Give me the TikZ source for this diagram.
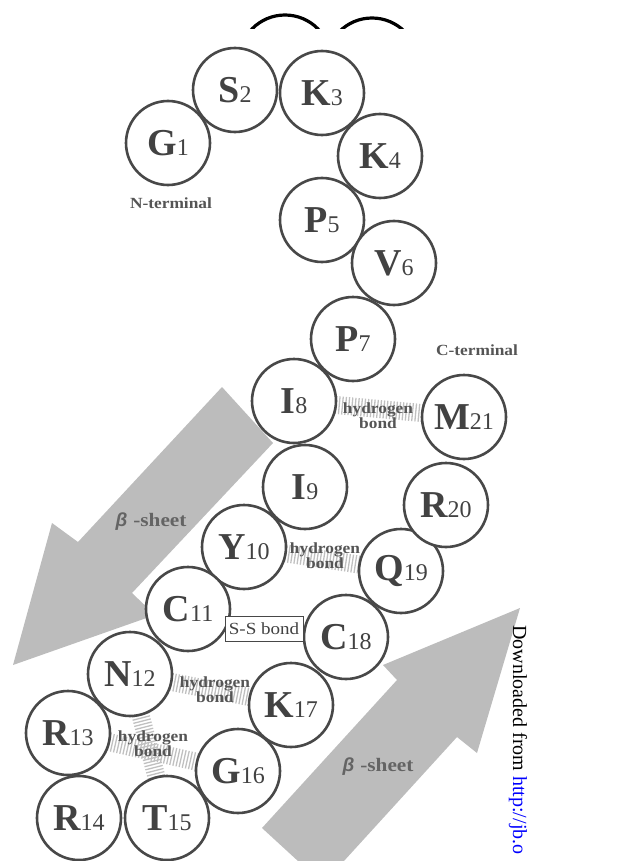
\documentclass[tikz,border=0pt]{standalone}
\usepackage{fontspec}
\setmainfont{Liberation Serif}
\newfontfamily\lblfont{Liberation Serif}[FakeStretch=1.12]
\newfontfamily\betafont{Liberation Sans}
\pgfdeclarelayer{bg}
\pgfsetlayers{bg,main}
\definecolor{arrowgray}{RGB}{188,188,188}
\definecolor{circ}{RGB}{72,72,72}
\definecolor{txt}{RGB}{66,66,66}
\definecolor{hbcol}{RGB}{192,192,192}
\definecolor{lbl}{RGB}{85,85,85}
\definecolor{sheetlbl}{RGB}{100,100,100}
\newcommand\aares[2]{{\fontsize{38}{40}\selectfont\bfseries #1}{\fontsize{24}{26}\selectfont #2}}
\newcommand\betasheet{{\betafont\bfseries\itshape β}\hspace{6pt}-sheet}
\begin{document}
\begin{tikzpicture}[x=1pt,y=-1pt,
  resnode/.style={circle,draw=circ,line width=2.6pt,fill=white,minimum size=84pt,inner sep=0pt,text=txt},
  hbond/.style={draw=hbcol,line width=18pt,dash pattern=on 1.3pt off 1.9pt},
  hblabel/.style={font=\lblfont\bfseries\fontsize{15.5}{15}\selectfont,text=lbl,align=center,inner sep=0pt},
  termlabel/.style={font=\lblfont\bfseries\fontsize{15.5}{17}\selectfont,text=lbl,inner sep=0pt},
  sheetlabel/.style={font=\lblfont\bfseries\fontsize{19}{21}\selectfont,text=sheetlbl,inner sep=0pt},
  betaarrow/.style={fill=arrowgray},
  ssbox/.style={draw=circ,line width=1pt,fill=white,minimum width=78pt,minimum height=25pt,inner sep=0pt,text=txt,font=\lblfont\fontsize{17}{19}\selectfont},
  topring/.style={draw=black,line width=3.2pt}]
\useasboundingbox (0,0) rectangle (636,861);
\clip (0,0) rectangle (636,861);

% top partial rings
\begin{scope}
  \clip (230,0) rectangle (420,29);
  \draw[topring] (285,61) circle[radius=46];
  \draw[topring] (372,64) circle[radius=46];
\end{scope}

% residues
\node[resnode] (G1)  at (168,143) {\aares{G}{1}};
\node[resnode] (S2)  at (235,90)  {\aares{S}{2}};
\node[resnode] (K3)  at (322,93)  {\aares{K}{3}};
\node[resnode] (K4)  at (380,156) {\aares{K}{4}};
\node[resnode] (P5)  at (322,220) {\aares{P}{5}};
\node[resnode] (V6)  at (394,263) {\aares{V}{6}};
\node[resnode] (P7)  at (353,339) {\aares{P}{7}};
\node[resnode] (I8)  at (294,401) {\aares{I}{8}};
\node[resnode] (I9)  at (305,487) {\aares{I}{9}};
\node[resnode] (Y10) at (244,547) {\aares{Y}{10}};
\node[resnode] (C11) at (188,609) {\aares{C}{11}};
\node[resnode] (N12) at (130,674) {\aares{N}{12}};
\node[resnode] (R13) at (68,733)  {\aares{R}{13}};
\node[resnode] (R14) at (79,818)  {\aares{R}{14}};
\node[resnode] (T15) at (167,818) {\aares{T}{15}};
\node[resnode] (G16) at (238,771) {\aares{G}{16}};
\node[resnode] (K17) at (291,705) {\aares{K}{17}};
\node[resnode] (C18) at (346,637) {\aares{C}{18}};
\node[resnode] (Q19) at (401,571) {\aares{Q}{19}};
\node[resnode] (R20) at (446,505) {\aares{R}{20}};
\node[resnode] (M21) at (464,417) {\aares{M}{21}};

% background: beta-sheet arrows and hydrogen-bond hatching
\begin{pgfonlayer}{bg}
  \fill[betaarrow] (222,387) -- (78,542) -- (52,523) -- (13,665) -- (155,615) -- (132,593) -- (273,443) -- cycle;
  \fill[betaarrow] (262,828) -- (397,680) -- (383,665) -- (520,608) -- (477,753) -- (457,737) -- (323,884) -- cycle;
  \draw[hbond] (I8.center) -- (M21.center);
  \draw[hbond] (Y10.center) -- (Q19.center);
  \draw[hbond] (N12.center) -- (K17.center);
  \draw[hbond] (R13.center) -- (G16.center);
  \draw[hbond] (N12.center) -- (T15.center);
\end{pgfonlayer}

% labels
\node[termlabel] (nterm) at (171,203) {N-terminal};
\node[termlabel] (cterm) at (477,350) {C-terminal};
\node[hblabel] (hb1) at (378,416) {hydrogen\\bond};
\node[hblabel] (hb2) at (325,556) {hydrogen\\bond};
\node[hblabel] (hb3) at (215,690) {hydrogen\\bond};
\node[hblabel] (hb4) at (153,744) {hydrogen\\bond};
\node[ssbox] (ss) at (264,628.5) {S-S bond};
\node[sheetlabel] (sheetL) at (151,522) {\betasheet};
\node[sheetlabel] (sheetR) at (378,767) {\betasheet};

% download notice (cut by the lower edge, as in the reference)
\node[rotate=-90,anchor=base west,inner sep=0pt,font=\fontsize{20}{24}\selectfont] (dl) at (513,625)
  {Downloaded from \textcolor{blue}{http://jb.o}};
\end{tikzpicture}
\end{document}
